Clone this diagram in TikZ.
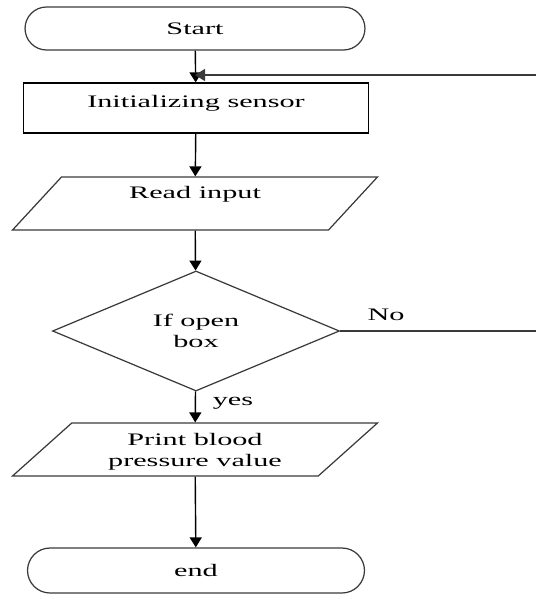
\documentclass[tikz,border=0pt]{standalone}
\usepackage{fontspec}
\setmainfont[FakeStretch=1.72]{Liberation Serif}
\usetikzlibrary{arrows.meta, shapes.geometric, shapes.misc}
\definecolor{Ink}{HTML}{000000}
\definecolor{Outline}{HTML}{3A3A3A}

\begin{document}
\begin{tikzpicture}[x=0.02cm,y=-0.02cm,font=\fontsize{10}{12}\selectfont,flowarrow/.style={-{Triangle[length=2mm,width=2.4mm]}, line width=0.8pt, draw=Ink},flowline/.style={line width=0.7pt, draw=Outline},terminal/.style={rounded rectangle, draw=Outline, line width=0.7pt, inner sep=0pt},process/.style={rectangle, draw=Ink, line width=0.7pt, inner sep=0pt},io/.style={trapezium, trapezium left angle=35.6, trapezium right angle=144.4, trapezium stretches body, draw=Outline, line width=0.7pt, inner sep=0pt, align=center},decision/.style={diamond, draw=Outline, line width=0.7pt, inner sep=0pt, align=center},edgelabel/.style={text=Ink, anchor=base}]
\useasboundingbox (0,0) rectangle (536,594);
\node[terminal, minimum width=6.8cm, minimum height=0.86cm] (start) at (195,28.5) {Start};
\node[process, minimum width=6.9cm, minimum height=1.0cm, text depth=8pt] (init) at (196,108) {Initializing sensor};
\node[io, minimum width=7.3cm, minimum height=1.06cm, text depth=13pt] (read) at (195,203.5) {Read input};
\node[decision, minimum width=5.74cm, minimum height=2.24cm] (check) at (196,331) {If open\\box};
\node[io, minimum width=7.3cm, minimum height=1.06cm, text height=22pt] (print) at (195,449.5) {Print blood\\pressure value};
\node[terminal, minimum width=6.74cm, minimum height=0.9cm] (stop) at (196,570.5) {end};
\coordinate (loopin) at (536,75);
\coordinate (noend) at (536,331);
\draw[flowarrow] (start) -- (init);
\draw[flowarrow] (init) -- (read);
\draw[flowarrow] (read) -- (check);
\draw[flowarrow] (check) -- (print);
\draw[flowarrow] (print) -- (stop);
\draw[flowline] (check.east) -- (noend);
\draw[flowarrow, draw=Outline] (loopin) -- (loopin -| start.south);
\node[edgelabel] (nolabel) at (386,320) {No};
\node[edgelabel] (yeslabel) at (233,405) {yes};
\end{tikzpicture}
\end{document}
